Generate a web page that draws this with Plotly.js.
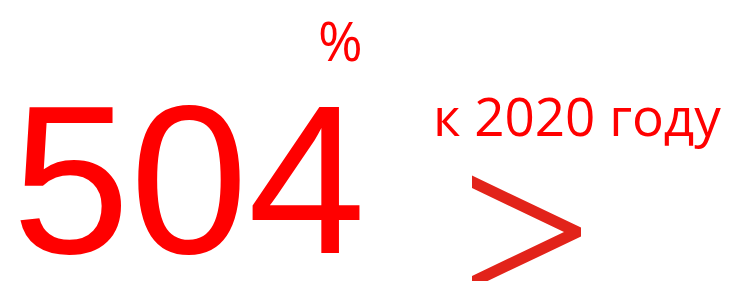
<!DOCTYPE html>
<html><head><meta charset="utf-8">
<script src="https://cdn.plot.ly/plotly-3.0.1.min.js"></script>
<style>html,body{margin:0;padding:0;background:#fff;}#chart{width:743px;height:281px;}</style>
</head><body><div id="chart"></div>
<script>
// Data
const values = [504];
const units = ['%'];
const labels = ['к 2020 году'];
const signs = ['>'];

const red = '#FF0000';
const chevronRed = '#E2231A';

const annotations = [
  {text: String(values[0]), x: 10, y: 179, xanchor: 'left', yanchor: 'middle',
   font: {family: 'Liberation Sans, Arial, sans-serif', size: 212, color: red}},
  {text: units[0], x: 340, y: 40, xanchor: 'center', yanchor: 'middle',
   font: {family: 'Open Sans, sans-serif', size: 54, color: red}},
  {text: labels[0], x: 431, y: 115, xanchor: 'left', yanchor: 'middle',
   font: {family: 'Open Sans, sans-serif', size: 53, color: red}}
].map(a => Object.assign({xref: 'x', yref: 'y', showarrow: false}, a));

const shapes = [{
  type: 'path', xref: 'x', yref: 'y',
  path: 'M472,175.6 L581,227.5 L581,236.6 L472,288.4 L472,276 L564,232 L472,188 Z',
  fillcolor: chevronRed, line: {width: 0}
}];

Plotly.newPlot('chart', [{x: [], y: [], type: 'scatter', hoverinfo: 'skip'}], {
  width: 743, height: 281,
  margin: {l: 0, r: 0, t: 0, b: 0},
  paper_bgcolor: '#fff', plot_bgcolor: '#fff',
  xaxis: {range: [0, 743], visible: false, fixedrange: true},
  yaxis: {range: [281, 0], visible: false, fixedrange: true},
  showlegend: false,
  annotations: annotations,
  shapes: shapes
}, {staticPlot: true, displayModeBar: false});
</script></body></html>
